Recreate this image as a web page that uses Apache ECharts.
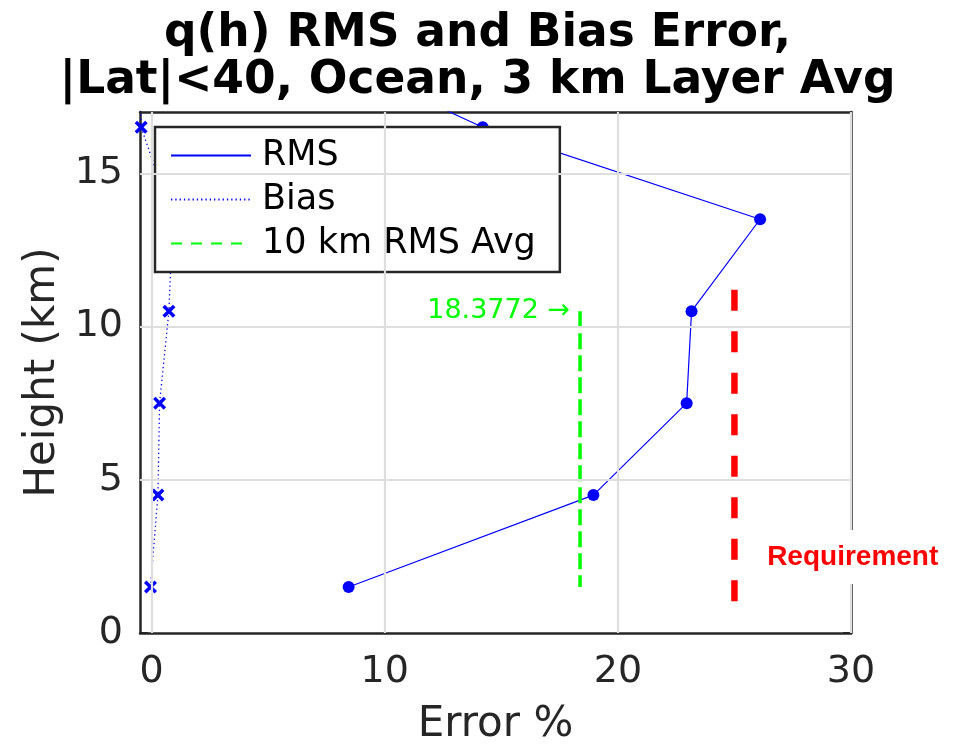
<!DOCTYPE html>
<html>
<head>
<meta charset="utf-8">
<script src="https://cdn.jsdelivr.net/npm/echarts@6/dist/echarts.min.js"></script>
<style>
  html, body { margin: 0; padding: 0; background: #ffffff; }
  #chart { width: 955px; height: 744px; }
</style>
</head>
<body>
<div id="chart"></div>
<script>
// Layer-centre heights (km) of the 3 km averaging layers
const heights = [1.5, 4.5, 7.5, 10.5, 13.5, 16.5, 19.5];
// RMS error (%) per layer
const rmsValues = [8.45, 18.95, 22.95, 23.16, 26.1, 14.2, 5.7];
// Bias error (%) per layer
const biasValues = [-0.05, 0.27, 0.34, 0.74, 0.9, -0.45, -0.6];
// Mean RMS over the lowest 10 km and the heights it spans
const rmsAvg10km = 18.3772;
const avgSpan = [10.5, 1.5];
// Requirement level (%) and the heights its marker spans
const requirement = 25;
const reqSpan = [11.2, 0.9];
const reqLabelAnchor = [26.06, 2.48];
// Axis ranges and tick values
const xRange = [-0.5, 30];
const yRange = [0, 17];
const xTicks = [0, 10, 20, 30];
const yTicks = [0, 5, 10, 15];

const FONT = 'DejaVu Sans';
const AXIS_COLOR = '#262626';
const BLUE = '#0000ff';
const GREEN = '#00ff00';
const RED = '#ff0000';

const pairs = (xs, ys) => xs.map((x, i) => [x, ys[i]]);
const xMark = 'path://M0,1.9 L1.9,0 L5,3.1 L8.1,0 L10,1.9 L6.9,5 L10,8.1 L8.1,10 L5,6.9 L1.9,10 L0,8.1 L3.1,5 Z';

function axisBase(extra) {
  return Object.assign({
    type: 'value',
    axisLine: { show: true, onZero: false, lineStyle: { color: AXIS_COLOR, width: 2.5 } },
    axisTick: { show: true, inside: true, length: 8, lineStyle: { color: AXIS_COLOR, width: 2 } },
    splitLine: { show: false },
    axisLabel: { show: false }
  }, extra);
}

const chart = echarts.init(document.getElementById('chart'), null, { renderer: 'canvas' });

chart.setOption({
  animation: false,
  backgroundColor: '#ffffff',
  title: {
    text: 'q(h) RMS and Bias Error,\n|Lat|<40, Ocean, 3 km Layer Avg',
    left: 'center',
    top: 11,
    padding: 0,
    textStyle: { fontFamily: FONT, fontSize: 45.5, fontWeight: 'bold', color: '#000000', lineHeight: 47 }
  },
  grid: { left: 140, right: 104, top: 112, bottom: 111, containLabel: false, outerBoundsMode: 'none' },
  legend: {
    data: [
      { name: 'RMS' },
      { name: 'Bias' },
      { name: '10 km RMS Avg', lineStyle: { type: [11, 9], width: 2 } }
    ],
    orient: 'vertical',
    left: 155,
    top: 127,
    itemWidth: 80,
    itemHeight: 14,
    itemGap: 9,
    padding: [11, 24, 11, 15],
    backgroundColor: '#ffffff',
    borderColor: AXIS_COLOR,
    borderWidth: 2.5,
    borderRadius: 0,
    selectedMode: false,
    itemStyle: { opacity: 0, borderWidth: 0 },
    textStyle: { fontFamily: FONT, fontSize: 35, color: '#000000', lineHeight: 35, padding: [0, 0, 0, 6] }
  },
  xAxis: [
    axisBase({
      position: 'bottom',
      min: xRange[0], max: xRange[1],
      name: 'Error %',
      nameLocation: 'middle',
      nameGap: 71,
      nameTextStyle: { fontFamily: FONT, fontSize: 42, color: AXIS_COLOR },
      axisTick: { show: true, inside: true, length: 8, customValues: xTicks, lineStyle: { color: AXIS_COLOR, width: 2 } },
      axisLabel: { show: true, customValues: xTicks, margin: 20, fontFamily: FONT, fontSize: 38, color: AXIS_COLOR }
    }),
    axisBase({
      position: 'top',
      min: xRange[0], max: xRange[1],
      axisTick: { show: true, inside: true, length: 8, customValues: xTicks, lineStyle: { color: AXIS_COLOR, width: 2 } }
    })
  ],
  yAxis: [
    axisBase({
      position: 'left',
      min: yRange[0], max: yRange[1],
      name: 'Height (km)',
      nameLocation: 'middle',
      nameGap: 70,
      nameTextStyle: { fontFamily: FONT, fontSize: 42, color: AXIS_COLOR },
      axisTick: { show: true, inside: true, length: 8, customValues: yTicks, lineStyle: { color: AXIS_COLOR, width: 2 } },
      axisLabel: { show: true, customValues: yTicks, margin: 17, fontFamily: FONT, fontSize: 38, color: AXIS_COLOR }
    }),
    axisBase({
      position: 'right',
      min: yRange[0], max: yRange[1],
      axisTick: { show: true, inside: true, length: 8, customValues: yTicks, lineStyle: { color: AXIS_COLOR, width: 2 } }
    })
  ],
  series: [
    // grid lines at the tick positions
    {
      type: 'line',
      name: 'grid',
      data: [],
      z: 1,
      silent: true,
      markLine: {
        silent: true,
        symbol: 'none',
        animation: false,
        label: { show: false },
        lineStyle: { color: '#dedede', width: 2.2, type: 'solid' },
        data: xTicks.map(v => ({ xAxis: v })).concat(yTicks.filter(v => v > yRange[0]).map(v => ({ yAxis: v })))
      }
    },
    {
      type: 'line',
      name: 'RMS',
      data: pairs(rmsValues, heights),
      symbol: 'none',
      lineStyle: { color: BLUE, width: 1.2 },
      itemStyle: { color: BLUE },
      z: 3
    },
    {
      type: 'scatter',
      name: 'RMS markers',
      data: pairs(rmsValues, heights),
      symbol: 'circle',
      symbolSize: 12,
      itemStyle: { color: BLUE, opacity: 1 },
      z: 3
    },
    {
      type: 'line',
      name: 'Bias',
      data: pairs(biasValues, heights),
      symbol: 'none',
      lineStyle: { color: BLUE, width: 1.3, type: [1.3, 3] },
      itemStyle: { color: BLUE },
      z: 3
    },
    {
      type: 'scatter',
      name: 'Bias markers',
      data: pairs(biasValues, heights),
      symbol: xMark,
      symbolSize: 13,
      itemStyle: { color: BLUE, opacity: 1 },
      z: 3
    },
    {
      type: 'line',
      name: '10 km RMS Avg',
      data: avgSpan.map(h => [rmsAvg10km, h]),
      symbol: 'none',
      lineStyle: { color: GREEN, width: 3.5, type: [16, 6] },
      itemStyle: { color: GREEN },
      z: 3
    },
    {
      type: 'scatter',
      name: 'avg label',
      data: [[rmsAvg10km, avgSpan[0]]],
      symbolSize: 0,
      silent: true,
      itemStyle: { opacity: 1 },
      label: {
        show: true,
        position: 'left',
        distance: 10,
        formatter: () => rmsAvg10km.toFixed(4) + ' \u2192',
        fontFamily: FONT,
        fontSize: 27,
        color: GREEN
      },
      z: 3
    },
    {
      type: 'line',
      name: 'Requirement',
      data: reqSpan.map(h => [requirement, h]),
      symbol: 'none',
      lineStyle: { color: RED, width: 6.5, type: [21, 20.5] },
      itemStyle: { color: RED },
      z: 3
    },
    {
      type: 'scatter',
      name: 'req label',
      data: [reqLabelAnchor],
      symbolSize: 0,
      silent: true,
      itemStyle: { opacity: 1 },
      label: {
        show: true,
        position: 'right',
        distance: 0,
        formatter: 'Requirement',
        fontFamily: 'Liberation Sans',
        fontWeight: 'bold',
        fontSize: 28,
        color: RED,
        backgroundColor: '#ffffff',
        padding: [13, 10, 13, 8]
      },
      z: 5
    }
  ]
});
</script>
</body>
</html>
